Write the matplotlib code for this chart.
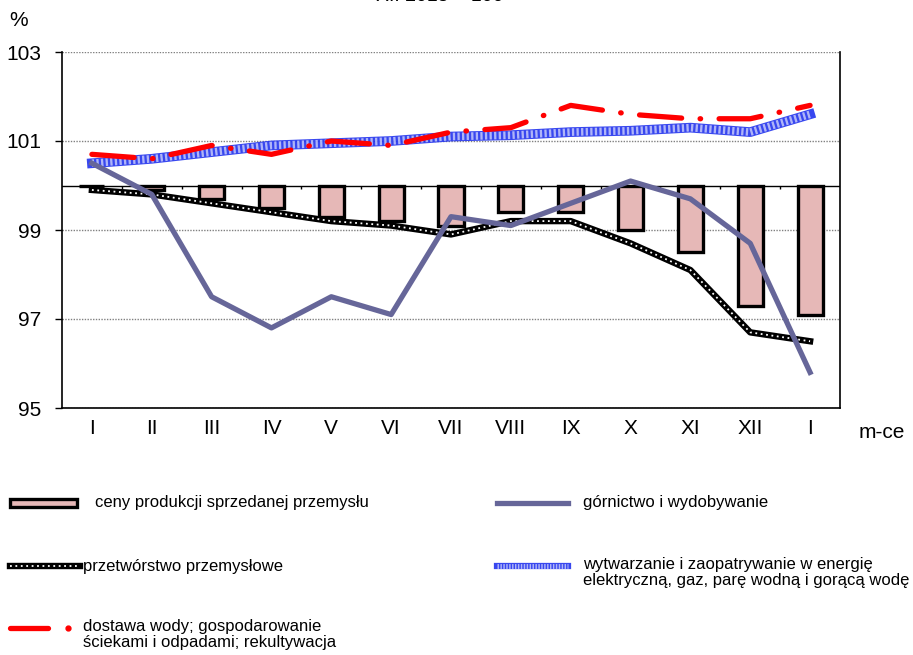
import numpy as np
import matplotlib.pyplot as plt
from matplotlib.patches import Rectangle
from matplotlib.lines import Line2D

plt.rcParams['font.family'] = ['Liberation Sans', 'DejaVu Sans']

# data (XII 2015 = 100)
months = ['I', 'II', 'III', 'IV', 'V', 'VI', 'VII', 'VIII', 'IX', 'X', 'XI', 'XII', 'I']
ceny = [100.0, 99.9, 99.7, 99.5, 99.3, 99.2, 99.1, 99.4, 99.4, 99.0, 98.5, 97.3, 97.1]
gornictwo = [100.5, 99.8, 97.5, 96.8, 97.5, 97.1, 99.3, 99.1, 99.6, 100.1, 99.7, 98.7, 95.8]
przetworstwo = [99.9, 99.8, 99.6, 99.4, 99.2, 99.1, 98.9, 99.2, 99.2, 98.7, 98.1, 96.7, 96.5]
energia = [100.5, 100.6, 100.75, 100.9, 100.95, 101.0, 101.1, 101.13, 101.2, 101.23, 101.3, 101.2, 101.6]
woda = [100.7, 100.6, 100.9, 100.7, 101.0, 100.9, 101.2, 101.3, 101.8, 101.6, 101.5, 101.5, 101.8]

BAR_FILL = '#E6B8B7'
MINING = '#666699'
BLUE = '#2233EE'
RED = '#FF0000'

fig = plt.figure(figsize=(9.13, 6.55), dpi=100)
ax = fig.add_axes([62 / 913, 1 - 408 / 655, (840 - 62) / 913, (408 - 52) / 655])

x = np.arange(len(months))
base = 100.0

# gridlines
for yv in [95, 97, 99, 101, 103]:
    ax.axhline(yv, color='#808080', lw=1.0, ls=(0, (1, 1)), zorder=0)

# bars hanging from 100
heights = np.array(ceny) - base
ax.bar(x, heights, bottom=base, width=0.42, color=BAR_FILL, edgecolor='black', lw=2.4, zorder=2)

# category axis at 100 with ticks between categories
ax.axhline(base, color='black', lw=1.0, zorder=1)
ax.vlines(x[:-1] + 0.5, base - 0.08, base, color='black', lw=1.0, zorder=1)

# mining
ax.plot(x, gornictwo, color=MINING, lw=3.8, zorder=5)

# manufacturing: black with white dots
ax.plot(x, przetworstwo, color='black', lw=4.6, zorder=4)
ax.plot(x, przetworstwo, color='white', lw=1.3, ls=(0, (1, 2)), zorder=4)

# energy: checkered blue
ax.plot(x, energia, color=BLUE, lw=7.0, zorder=3, alpha=0.9)
ax.plot(x, energia, color='white', lw=5.5, ls=(0, (0.3, 0.3)), zorder=3, alpha=0.6)

# water: red long dash + dot
ax.plot(x, woda, color=RED, lw=3.8, ls=(0, (8, 3.5, 0.1, 3.5)),
        dash_capstyle='round', zorder=6)

ax.set_xlim(-0.5, len(months) - 0.5)
ax.set_ylim(95, 103)
ax.set_yticks([95, 97, 99, 101, 103])
ax.set_xticks(x)
ax.set_xticklabels(months)
ax.tick_params(axis='y', labelsize=15, length=5, width=1, direction='out', pad=10)
ax.tick_params(axis='x', labelsize=15, length=0, pad=8)
ax.spines['top'].set_visible(False)
for s in ['left', 'right', 'bottom']:
    ax.spines[s].set_linewidth(1.2)

fig.text(9 / 913, 1 - 20 / 655, '%', fontsize=15, ha='left', va='center')
fig.text(882 / 913, 1 - 432 / 655, 'm-ce', fontsize=15, ha='center', va='center')
fig.text(440 / 913, 1.006, 'XII 2015 = 100', fontsize=14, ha='center', va='center')

# legend drawn on its own pixel-space axes
lg = fig.add_axes([0, 0, 1, 175 / 655])
lg.set_xlim(0, 913)
lg.set_ylim(655, 480)
lg.axis('off')
fs = 12

lg.add_patch(Rectangle((10, 499), 67, 8, facecolor=BAR_FILL, edgecolor='black', lw=2.4))
lg.text(95, 503, 'ceny produkcji sprzedanej przemysłu', fontsize=fs, va='center')

lg.add_line(Line2D([497, 568], [503, 503], color=MINING, lw=3.8))
lg.text(583, 503, 'górnictwo i wydobywanie', fontsize=fs, va='center')

lg.add_line(Line2D([10, 80], [566, 566], color='black', lw=4.6))
lg.add_line(Line2D([10, 80], [566, 566], color='white', lw=1.3, ls=(0, (1, 2))))
lg.text(83, 566, 'przetwórstwo przemysłowe', fontsize=fs, va='center')

lg.add_line(Line2D([497, 568], [566, 566], color=BLUE, lw=4.5, alpha=0.9))
lg.add_line(Line2D([497, 568], [566, 566], color='white', lw=3.5, ls=(0, (0.3, 0.3)), alpha=0.6))
lg.text(583, 557, 'wytwarzanie i zaopatrywanie w energię\nelektryczną, gaz, parę wodną i gorącą wodę',
        fontsize=fs, va='top', linespacing=1.1)

lg.add_line(Line2D([10, 48], [628, 628], color=RED, lw=3.8, solid_capstyle='round'))
lg.add_line(Line2D([68], [628], color=RED, marker='o', ms=3.5, lw=0))
lg.text(83, 619, 'dostawa wody; gospodarowanie\nściekami i odpadami; rekultywacja',
        fontsize=fs, va='top', linespacing=1.1)

fig.savefig('out.png', dpi=100)
